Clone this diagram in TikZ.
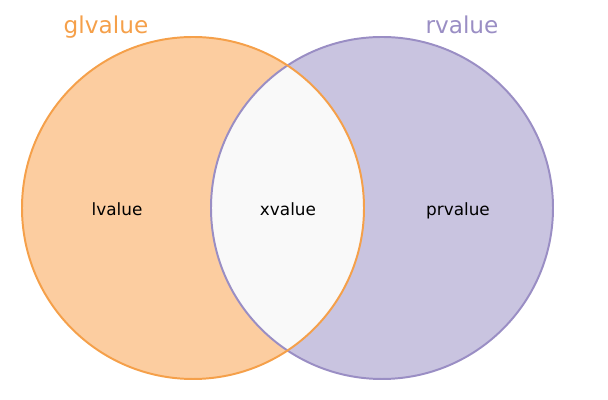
\documentclass[tikz,border=0pt]{standalone}
\usepackage{fontspec}
\setmainfont{DejaVu Sans}
\usepackage{xcolor}
\definecolor{glfill}{HTML}{FCCDA0}
\definecolor{gldraw}{HTML}{F5A04A}
\definecolor{rfill}{HTML}{C9C4E0}
\definecolor{rdraw}{HTML}{9A8EC4}
\definecolor{xfill}{HTML}{F9F9F9}

\begin{document}
\begin{tikzpicture}[line width=1.4pt,font=\fontsize{12}{14}\selectfont,
  setlabel/.style={anchor=base,inner sep=0pt,font=\fontsize{16.5}{19}\selectfont},
  partlabel/.style={anchor=base,inner sep=0pt}]
\useasboundingbox (0,0) rectangle (15.2,10);
\fill[glfill] (4.825,4.8) circle (4.275);
\fill[rfill] (9.55,4.8) circle (4.275);
\begin{scope}
\clip (4.825,4.8) circle (4.275);
\fill[xfill] (9.55,4.8) circle (4.275);
\end{scope}
\draw[rdraw] (9.55,4.8) circle (4.275);
\draw[gldraw] (4.825,4.8) circle (4.275);
\node[setlabel,gldraw] (glvalue) at (2.65,9.15) {glvalue};
\node[setlabel,rdraw] (rvalue) at (11.55,9.15) {rvalue};
\node[partlabel] (lvalue) at (2.925,4.62) {lvalue};
\node[partlabel] (xvalue) at (7.2,4.62) {xvalue};
\node[partlabel] (prvalue) at (11.45,4.62) {prvalue};
\end{tikzpicture}
\end{document}
